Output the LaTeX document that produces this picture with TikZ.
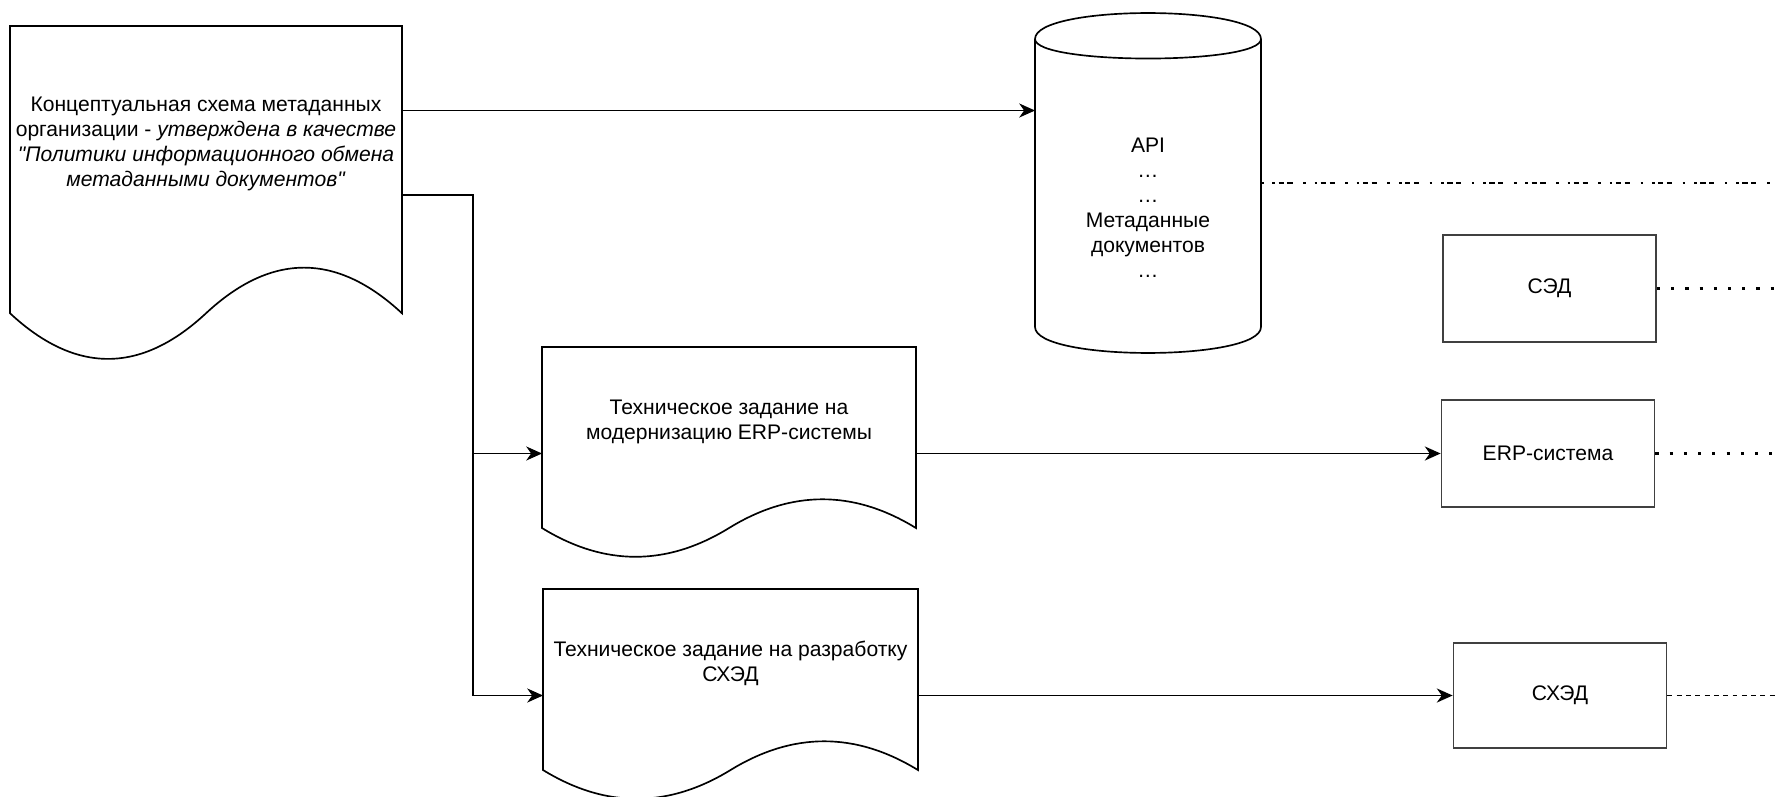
\documentclass[tikz,border=0pt]{standalone}
\usepackage{fontspec}
\setmainfont{Liberation Sans}[Ligatures=TeXOff]
\usetikzlibrary{%
  arrows.meta,%
  calc%
}

% outline of a document shape (wavy bottom) round a node
\newcommand\docoutline[1]{%
  \draw [docline] let \p1=(#1.north west), \p2=(#1.south east),
      \n1={\x2-\x1}, \n2={\y1-\y2} in
    (\p1) -- (\x2,\y1) -- (\x2,\y1-0.85*\n2)
    .. controls (\x1+0.8333*\n1,\y1-0.67*\n2) and (\x1+0.6667*\n1,\y1-0.67*\n2)
    .. (\x1+0.5*\n1,\y1-0.85*\n2)
    .. controls (\x1+0.3333*\n1,\y1-1.03*\n2) and (\x1+0.1667*\n1,\y1-1.03*\n2)
    .. (\x1,\y1-0.85*\n2) -- cycle;}
% outline of a cylinder round a node, #2 = half height of the ellipse (px)
\newcommand\cyloutline[2]{%
  \draw [docline]
    ($(#1.north west)+(0,#2)$)
    .. controls ($(#1.north west)+(0,-#2/3)$) and ($(#1.north east)+(0,-#2/3)$)
    .. ($(#1.north east)+(0,#2)$)
    -- ($(#1.south east)+(0,-#2)$)
    .. controls ($(#1.south east)+(0,#2/3)$) and ($(#1.south west)+(0,#2/3)$)
    .. ($(#1.south west)+(0,-#2)$) -- cycle
    ($(#1.north west)+(0,#2)$)
    .. controls ($(#1.north west)+(0,2*#2)$) and ($(#1.north east)+(0,2*#2)$)
    .. ($(#1.north east)+(0,#2)$);}

\tikzset{
  docline/.style={line width=0.95pt},
  docbox/.style={inner sep=0pt,outer sep=0pt},
  doctext/.style={align=center,font=\fontsize{12}{14.2}\selectfont},
  sysbox/.style={draw=black!75,line width=1pt,minimum width=4.26cm,
    minimum height=2.14cm,font=\fontsize{12}{14.2}\selectfont},
  link/.style={line width=0.95pt,-{Stealth[length=9pt,width=8pt,inset=2.8pt]}},
  apiline/.style={line width=1.2pt,
    dash pattern=on 1.5pt off 5pt on 1.5pt off 2pt on 3pt off 2pt on 3pt off 6pt},
  dotline/.style={line width=1.5pt,dash pattern=on 1.8pt off 6.3pt},
  dashline/.style={line width=1.1pt,dash pattern=on 2.8pt off 2.5pt}
}

\begin{document}
\begin{tikzpicture}[x=0.02cm,y=-0.02cm]
  \useasboundingbox (0,0) rectangle (1778,797);
  \coordinate (edge) at (1778,0);

  % documents
  \node [docbox,minimum width=7.84cm,minimum height=6.76cm] (main) at (206,195) {};
  \docoutline{main}
  \node [doctext] (maintext) at ($(main.north)!.35!(main.south)$)
    {Концептуальная схема метаданных\\
     организации - \textit{утверждена в качестве}\\
     \textit{"Политики информационного обмена}\\
     \textit{метаданными документов"}};

  \node [docbox,minimum width=7.48cm,minimum height=4.26cm] (tzerp) at (729,453.5) {};
  \docoutline{tzerp}
  \node [doctext] (tzerptext) at ($(tzerp.north)!.35!(tzerp.south)$)
    {Техническое задание на\\модернизацию ERP-системы};

  \node [docbox,minimum width=7.5cm,minimum height=4.26cm] (tzsxed) at (730.5,695.5) {};
  \docoutline{tzsxed}
  \node [doctext] (tzsxedtext) at ($(tzsxed.north)!.35!(tzsxed.south)$)
    {Техническое задание на разработку\\СХЭД};

  % API cylinder
  \node [docbox,minimum width=4.52cm,minimum height=6.8cm] (cyl) at (1148,183) {};
  \cyloutline{cyl}{26}
  \node [doctext] (cyltext) at (1148,208)
    {API\\…\\…\\Метаданные\\документов\\…};

  % systems
  \node [sysbox] (sed) at (1549.5,288.5) {СЭД};
  \node [sysbox] (erp) at (1548,453.5) {ERP-система};
  \node [sysbox,minimum height=2.1cm] (sxed) at (1560,695.5) {СХЭД};

  % links
  \coordinate (mainup) at ($(main.north east)!.25!(main.south east)$);
  \coordinate (split) at (473,195);
  \draw [link] (mainup) -- (mainup -| cyl.west);
  \draw [link] (main.east) -- (split) |- (tzerp.west);
  \draw [link] (main.east) -- (split) |- (tzsxed.west);
  \draw [link] (tzerp.east) -- (erp.west);
  \draw [link] (tzsxed.east) -- (sxed.west);

  % lines leaving the picture
  \draw [apiline] (cyl.east) -- (cyl.east -| edge);
  \draw [dotline] (sed.east) -- (sed.east -| edge);
  \draw [dotline] (erp.east) -- (erp.east -| edge);
  \draw [dashline] (sxed.east) -- (sxed.east -| edge);
\end{tikzpicture}
\end{document}
